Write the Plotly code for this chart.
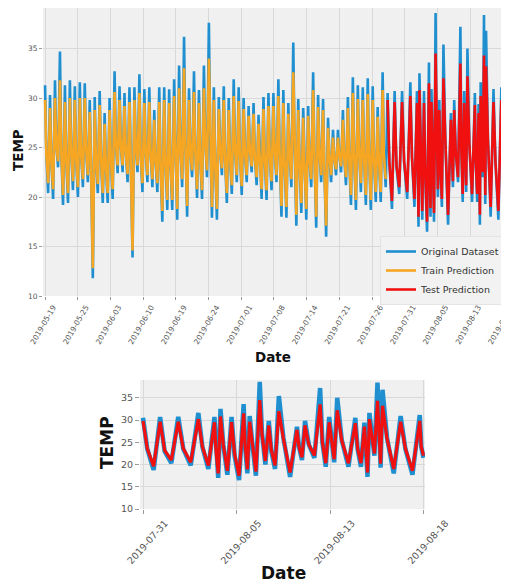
import plotly.graph_objects as go

# position of the three readings inside one cycle (fraction of cycle): daily max, evening, morning min
phase = [0.0, 0.25, 0.62]
train_cycle_hours = 24

# ---- training period (original data) ----
train_high = [31.3, 30.3, 31.8, 34.7, 31.3, 31.8, 31.2, 31.6, 31.5, 29.8,
              30.1, 30.7, 28.5, 30.0, 32.7, 31.2, 30.5, 31.1, 31.1, 32.4,
              30.9, 31.1, 28.8, 31.1, 31.1, 30.9, 31.9, 33.3, 36.2, 31.0,
              32.7, 30.8, 33.3, 37.6, 31.1, 30.1, 31.2, 30.0, 31.9, 31.1,
              30.0, 29.2, 29.5, 28.3, 30.1, 30.5, 30.5, 31.9, 30.8, 29.5,
              35.6, 29.9, 29.0, 29.2, 32.6, 30.3, 29.9, 28.0, 26.8, 26.8,
              28.8, 30.1, 32.1, 31.3, 31.1, 32.0, 31.2, 29.1, 32.6]
train_eve = [24.5, 23.8, 25.5, 25.0, 24.2, 24.8, 24.0, 24.6, 25.2, 23.5,
             24.0, 24.3, 23.2, 24.0, 25.8, 25.5, 24.8, 24.0, 25.6, 24.5,
             25.0, 24.8, 23.9, 23.5, 24.0, 23.8, 24.5, 25.5, 26.0, 24.8,
             25.0, 24.2, 26.0, 26.5, 23.6, 25.0, 24.0, 24.2, 25.2, 24.5,
             24.8, 25.0, 24.2, 23.8, 24.0, 24.5, 25.0, 24.6, 23.8, 24.5,
             25.5, 23.8, 23.5, 24.0, 24.6, 24.8, 23.2, 24.5, 24.0, 24.4,
             24.2, 24.0, 24.5, 24.8, 24.2, 24.5, 24.0, 23.8, 24.5]
train_low = [20.4, 19.8, 23.0, 19.2, 19.4, 20.7, 20.0, 21.0, 21.5, 11.8,
             20.4, 19.4, 19.4, 19.8, 22.4, 22.5, 21.5, 13.9, 22.5, 20.5,
             21.5, 21.0, 20.5, 17.5, 18.7, 18.7, 17.7, 21.0, 18.0, 22.0,
             19.9, 19.8, 22.0, 17.9, 17.7, 22.2, 19.4, 20.3, 21.5, 20.2,
             21.5, 22.5, 21.2, 19.8, 19.7, 20.7, 21.5, 18.0, 17.9, 21.0,
             17.1, 18.4, 17.7, 21.0, 16.9, 21.5, 16.0, 21.5, 22.2, 22.5,
             21.2, 19.2, 18.7, 20.5, 19.2, 18.7, 19.5, 19.5, 21.0]

# ---- training predictions ----
trp_high = [29.8, 29.0, 30.0, 31.8, 29.6, 30.0, 29.8, 30.0, 30.0, 28.6,
            28.8, 29.3, 27.4, 28.8, 30.6, 29.8, 29.2, 29.6, 29.8, 30.5,
            29.5, 29.6, 27.8, 29.6, 29.8, 29.5, 30.2, 31.0, 33.0, 29.8,
            30.6, 29.5, 31.0, 34.0, 29.8, 28.9, 29.8, 28.8, 30.2, 29.7,
            28.9, 28.2, 28.4, 27.4, 28.9, 29.2, 29.2, 30.2, 29.5, 28.4,
            32.6, 28.8, 28.0, 28.2, 30.8, 29.1, 28.8, 27.0, 26.0, 26.0,
            27.8, 29.0, 30.5, 29.9, 29.8, 30.4, 29.8, 28.1, 30.8]
trp_eve = [24.3, 23.7, 25.2, 24.8, 24.0, 24.6, 23.9, 24.4, 25.0, 23.4,
           23.9, 24.1, 23.1, 23.9, 25.5, 25.3, 24.6, 23.9, 25.4, 24.3,
           24.8, 24.6, 23.8, 23.4, 23.9, 23.7, 24.3, 25.2, 25.6, 24.6,
           24.8, 24.1, 25.6, 26.0, 23.5, 24.8, 23.9, 24.1, 25.0, 24.3,
           24.6, 24.8, 24.0, 23.7, 23.9, 24.3, 24.8, 24.4, 23.7, 24.3,
           25.2, 23.7, 23.4, 23.9, 24.4, 24.6, 23.1, 24.3, 23.9, 24.2,
           24.0, 23.9, 24.3, 24.6, 24.0, 24.3, 23.9, 23.7, 24.3]
trp_low = [21.4, 20.8, 23.6, 20.2, 20.4, 21.6, 21.0, 21.8, 22.2, 12.8,
           21.3, 20.4, 20.4, 20.8, 23.2, 23.2, 22.3, 14.6, 23.2, 21.4,
           22.2, 21.8, 21.4, 18.6, 19.7, 19.7, 18.8, 21.8, 19.1, 22.7,
           20.8, 20.7, 22.7, 19.0, 18.8, 22.9, 20.4, 21.2, 22.2, 21.1,
           22.2, 23.1, 22.0, 20.8, 20.7, 21.6, 22.2, 19.1, 19.0, 21.8,
           18.2, 19.4, 18.8, 21.8, 18.0, 22.2, 17.1, 22.2, 22.8, 23.1,
           22.0, 20.2, 19.7, 21.4, 20.2, 19.7, 20.5, 20.5, 21.8]

# ---- test period (original data) ----
test_cycle_hours = [34, 36, 40, 32, 12, 22, 24, 12, 20, 18, 20, 36,
                    16, 30, 18, 16, 36, 18, 10, 16, 10, 36, 38, 12]
test_high = [30.5, 30.7, 30.7, 31.6, 30.7, 32.5, 30.7, 33.6, 30.9, 38.6, 29.8, 35.4,
             28.5, 29.8, 37.2, 30.7, 35.0, 30.5, 29.4, 31.6, 38.4, 36.8, 30.9, 31.1]
test_eve = [23.5, 23.0, 23.5, 24.0, 23.0, 24.5, 22.0, 24.0, 25.0, 27.0, 23.0, 26.0,
            24.0, 24.5, 25.0, 26.0, 25.5, 23.5, 25.0, 27.0, 27.0, 26.0, 23.5, 24.0]
test_low = [18.8, 20.3, 19.8, 19.0, 17.0, 17.7, 16.5, 18.0, 17.5, 20.0, 19.0, 17.2,
            21.0, 21.5, 19.5, 20.5, 19.5, 19.5, 17.2, 22.0, 19.3, 18.0, 17.7, 21.5]

# ---- test predictions ----
tsp_high = [29.8, 29.6, 29.6, 30.2, 29.5, 30.8, 29.5, 31.5, 29.6, 34.5, 28.8, 32.0,
            27.8, 28.8, 33.5, 29.5, 32.2, 29.3, 28.5, 30.2, 34.3, 33.2, 29.6, 29.8]
tsp_eve = [23.6, 23.2, 23.6, 24.0, 23.2, 24.5, 22.4, 24.2, 25.0, 26.8, 23.3, 25.8,
           24.0, 24.5, 25.0, 25.8, 25.4, 23.6, 25.0, 26.6, 26.8, 25.8, 23.6, 24.0]
tsp_low = [19.6, 21.0, 20.5, 19.8, 18.0, 18.6, 17.5, 18.9, 18.4, 20.8, 19.8, 18.2,
           21.6, 22.0, 20.3, 21.2, 20.3, 20.3, 18.2, 22.5, 20.2, 19.0, 18.6, 22.0]

top_dates = ["2019-05-19", "2019-05-25", "2019-06-03", "2019-06-10", "2019-06-19",
             "2019-06-24", "2019-07-01", "2019-07-08", "2019-07-14", "2019-07-21",
             "2019-07-26", "2019-07-31", "2019-08-05", "2019-08-13", "2019-08-18"]
bottom_dates = ["2019-07-31", "2019-08-05", "2019-08-13", "2019-08-18"]
y_ticks = [10, 15, 20, 25, 30, 35]


def series(highs, eves, lows, durations, t0):
    xs, ys = [], []
    t = t0
    for vals, dur in zip(zip(highs, eves, lows), durations):
        for ph, v in zip(phase, vals):
            xs.append(t + ph * dur)
            ys.append(v)
        t += dur
    return xs, ys


train_durs = [train_cycle_hours] * len(train_high)
test_start = sum(train_durs)
ox, oy = series(train_high + test_high, train_eve + test_eve, train_low + test_low,
                train_durs + test_cycle_hours, 0)
trx, try_ = series(trp_high, trp_eve, trp_low, train_durs, 0)
tsx, tsy = series(tsp_high, tsp_eve, tsp_low, test_cycle_hours, test_start)
tox, toy = series(test_high, test_eve, test_low, test_cycle_hours, test_start)

BLUE = "#1f8fcf"
ORANGE = "#f5a623"
RED = "#f01010"

# page is 509x585; the html body has an 8px margin, so the figure is drawn 8px in
OFF = 8
FW, FH = 509 - OFF, 585 - OFF


def fx(px):
    return min(max((px - OFF) / FW, 0.0), 1.0)


def fy(py):
    return min(max(1 - (py - OFF) / FH, 0.0), 1.0)


fig = go.Figure()
fig.add_trace(go.Scatter(x=ox, y=oy, mode="lines", name="Original Dataset",
                         line=dict(color=BLUE, width=2.6), xaxis="x", yaxis="y"))
fig.add_trace(go.Scatter(x=trx, y=try_, mode="lines", name="Train Prediction",
                         line=dict(color=ORANGE, width=2.6), xaxis="x", yaxis="y"))
fig.add_trace(go.Scatter(x=tsx, y=tsy, mode="lines", name="Test Prediction",
                         line=dict(color=RED, width=2.6), xaxis="x", yaxis="y"))
fig.add_trace(go.Scatter(x=tox, y=toy, mode="lines", showlegend=False,
                         line=dict(color=BLUE, width=4.5), xaxis="x2", yaxis="y2"))
fig.add_trace(go.Scatter(x=tsx, y=tsy, mode="lines", showlegend=False,
                         line=dict(color=RED, width=3.2), xaxis="x2", yaxis="y2"))

x0, x1 = ox[0], ox[-1]
top_ticks = [x0 + k * (x1 - x0) / (len(top_dates) - 1) for k in range(len(top_dates))]
b0, b1 = tox[0], tox[-1]
bot_ticks = [b0 + k * (b1 - b0) / (len(bottom_dates) - 1) for k in range(len(bottom_dates))]

grid = "#d9d9d9"
tickfont_s = dict(family="DejaVu Sans", size=7.5, color="#555")
tickfont_b = dict(family="DejaVu Sans", size=9.5, color="#555")

fig.update_layout(
    width=FW, height=FH,
    margin=dict(l=0, r=0, t=0, b=0),
    paper_bgcolor="white",
    plot_bgcolor="#f0f0f0",
    showlegend=True,
    legend=dict(x=fx(380), y=fy(236), xanchor="left", yanchor="top",
                bgcolor="#f2f2f2", bordercolor="#e4e4e4", borderwidth=1,
                font=dict(family="DejaVu Sans", size=9.5, color="#333"),
                itemwidth=30, tracegroupgap=0),
    xaxis=dict(domain=[fx(43), fx(503)], range=[x0 - 10, x1 + 0.5], tickvals=top_ticks, ticktext=top_dates,
               tickangle=-60, tickfont=tickfont_s, ticklabelshift=8, ticklabeloverflow="allow",
               showgrid=True, gridcolor=grid,
               zeroline=False, ticks="outside", ticklen=3, tickcolor="#999", showline=False,
               automargin=False, anchor="y"),
    yaxis=dict(domain=[fy(296), fy(8)], range=[10, 39.1], tickvals=y_ticks,
               tickfont=tickfont_s, showgrid=True, gridcolor=grid, zeroline=False,
               ticks="outside", ticklen=3, tickcolor="#999", automargin=False, anchor="x"),
    xaxis2=dict(domain=[fx(140), fx(425)], range=[b0 - 6, b1 + 3], tickvals=bot_ticks, ticktext=bottom_dates,
                tickangle=-48, tickfont=tickfont_b, ticklabelshift=22, ticklabeloverflow="allow",
                showgrid=True, gridcolor=grid,
                zeroline=False, ticks="outside", ticklen=4, tickcolor="#999", automargin=False, anchor="y2"),
    yaxis2=dict(domain=[fy(509), fy(380)], range=[10, 39], tickvals=y_ticks,
                tickfont=tickfont_b, showgrid=True, gridcolor=grid, zeroline=False,
                ticks="outside", ticklen=4, tickcolor="#999", automargin=False, anchor="x2"),
)

title_s = dict(family="DejaVu Sans", size=13.5, color="#111", weight="bold")
title_b = dict(family="DejaVu Sans", size=17, color="#111", weight="bold")
fig.add_annotation(text="TEMP", x=fx(18), y=fy(150), xref="paper", yref="paper",
                   textangle=-90, showarrow=False, font=title_s, xanchor="center", yanchor="middle")
fig.add_annotation(text="Date", x=fx(273), y=fy(357), xref="paper", yref="paper",
                   showarrow=False, font=title_s, xanchor="center", yanchor="middle")
fig.add_annotation(text="TEMP", x=fx(107), y=fy(443), xref="paper", yref="paper",
                   textangle=-90, showarrow=False, font=title_b, xanchor="center", yanchor="middle")
fig.add_annotation(text="Date", x=fx(283), y=fy(573), xref="paper", yref="paper",
                   showarrow=False, font=title_b, xanchor="center", yanchor="middle")

fig.write_html("out.html")
